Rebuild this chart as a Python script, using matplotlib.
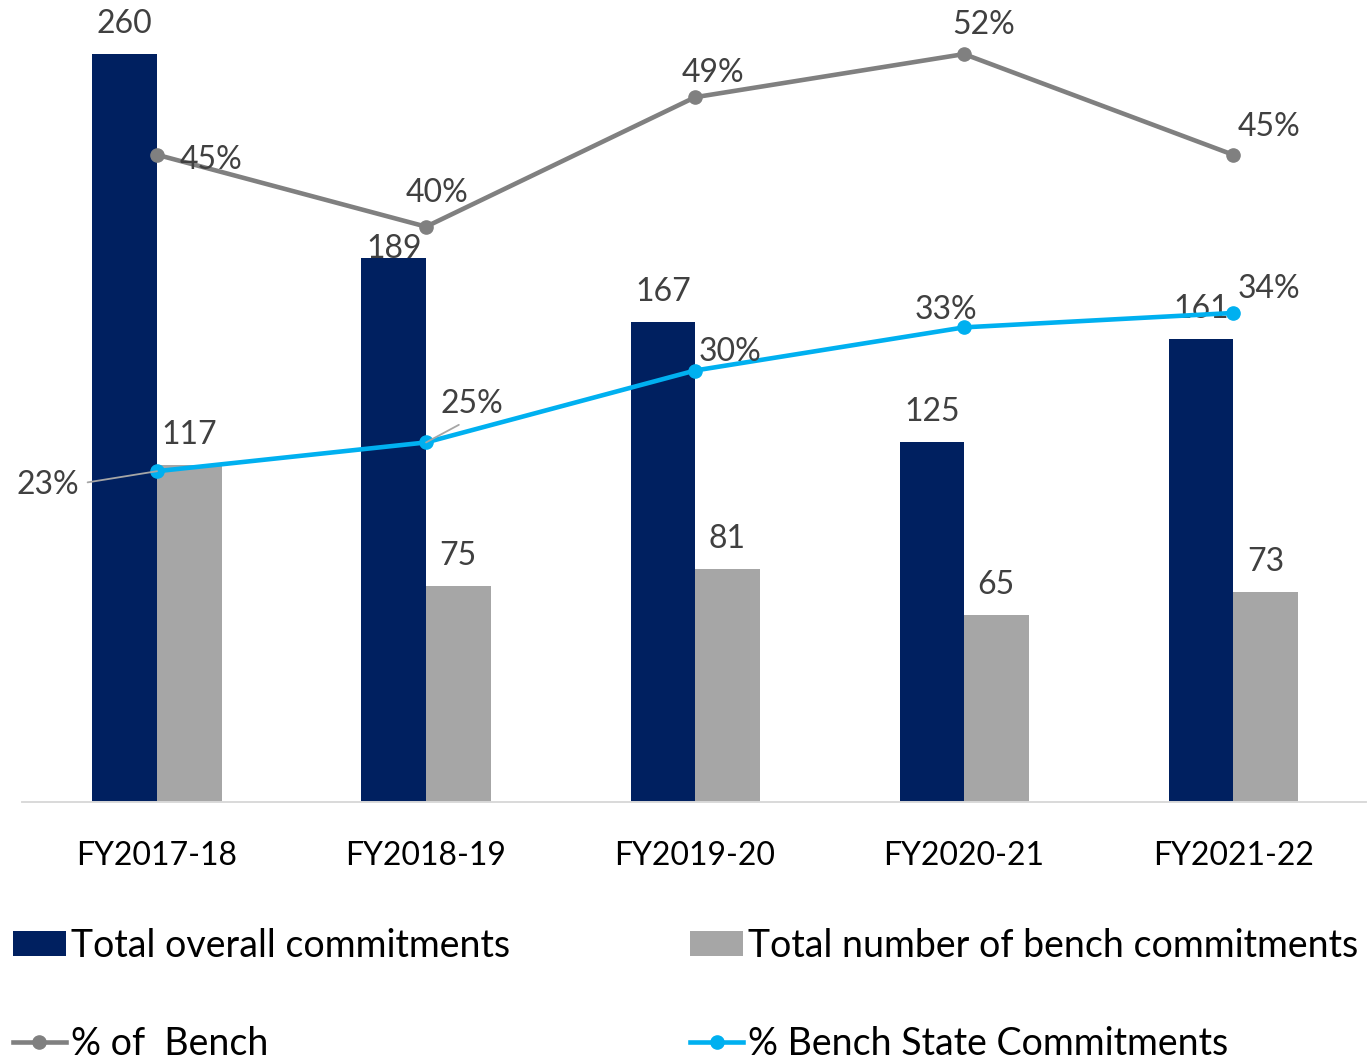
import numpy as np
import matplotlib
matplotlib.use("Agg")
import matplotlib.pyplot as plt

plt.rcParams["font.family"]=["Lato","DejaVu Sans"]

years=["FY2017-18","FY2018-19","FY2019-20","FY2020-21","FY2021-22"]
total_commitments=[260,189,167,125,161]
bench_commitments=[117,75,81,65,73]
pct_bench=[45,40,49,52,45]
pct_bench_state=[23,25,30,33,34]

NAVY="#002060"
GREY_BAR="#A6A6A6"
GREY_LINE="#808080"
BLUE="#00B0F0"
LABEL="#404040"

W,H=1371,1058
DPI=100
PX=72.0/DPI  # points per pixel

fig=plt.figure(figsize=(W/DPI,H/DPI),dpi=DPI)
ax=fig.add_axes([22/W,(H-802)/H,(1366-22)/W,802/H])
ax2=ax.twinx()

x=np.arange(len(years))
bw=0.24

ax.bar(x-bw/2,total_commitments,bw,color=NAVY,label="Total overall commitments",zorder=2)
ax.bar(x+bw/2,bench_commitments,bw,color=GREY_BAR,label="Total number of bench commitments",zorder=2)

ax.set_xlim(-0.502,4.494)
ax.set_ylim(0,278.8)
ax2.set_ylim(0,55.76)

l1,=ax2.plot(x,pct_bench,color=GREY_LINE,lw=3.3,marker="o",ms=9.5,
             label="% of  Bench",zorder=3)
l2,=ax2.plot(x,pct_bench_state,color=BLUE,lw=3.3,marker="o",ms=9.5,
             label="% Bench State Commitments",zorder=3)

fs=23

# bar value labels (pixel offsets above bar top)
bar_nudge=[30,9,30,30,30]
for i,v in enumerate(total_commitments):
    ax.annotate(str(v),(x[i]-bw/2,v),xytext=(0,bar_nudge[i]*PX),
                textcoords="offset points",ha="center",va="center",
                fontsize=fs,color=LABEL,zorder=5)
for i,v in enumerate(bench_commitments):
    ax.annotate(str(v),(x[i]+bw/2,v),xytext=(0,30*PX),
                textcoords="offset points",ha="center",va="center",
                fontsize=fs,color=LABEL,zorder=5)

# line labels, offsets in pixels (dx right, dy up)
bench_off=[(54,-5),(11,34),(18,24),(20,29),(36,28)]
for i,v in enumerate(pct_bench):
    dx,dy=bench_off[i]
    ax2.annotate(f"{v}%",(x[i],v),xytext=(dx*PX,dy*PX),
                 textcoords="offset points",ha="center",va="center",
                 fontsize=fs,color=LABEL,zorder=5)

state_off=[(-109,-14),(46,38),(35,19),(-18,17),(36,24)]
for i,v in enumerate(pct_bench_state):
    dx,dy=state_off[i]
    if i in (0,1):
        ax2.annotate(f"{v}%",(x[i],v),xytext=(dx*PX,dy*PX),
                     textcoords="offset points",ha="center",va="center",
                     fontsize=fs,color=LABEL,zorder=5,
                     arrowprops=dict(arrowstyle="-",color="#A6A6A6",lw=1.3,
                                     shrinkA=4,shrinkB=0,
                                     relpos=(1,0.55) if i==0 else (0.45,0)))
    else:
        ax2.annotate(f"{v}%",(x[i],v),xytext=(dx*PX,dy*PX),
                     textcoords="offset points",ha="center",va="center",
                     fontsize=fs,color=LABEL,zorder=5)

ax.set_xticks(x)
ax.set_xticklabels(years,fontsize=fs,color="#000000")
ax.tick_params(axis="x",length=0,pad=28)
ax.set_yticks([])
ax2.set_yticks([])
for a in (ax,ax2):
    for s in ("top","right","left"):
        a.spines[s].set_visible(False)
    a.spines["bottom"].set_color("#D9D9D9")
    a.spines["bottom"].set_linewidth(1.2)

handles=[ax.containers[0],l1,ax.containers[1],l2]
labels=["Total overall commitments","% of  Bench",
        "Total number of bench commitments","% Bench State Commitments"]
fig.legend(handles,labels,loc="upper left",bbox_to_anchor=(13/W,1-928/H),
           ncol=2,frameon=False,fontsize=27,handlelength=1.4,
           handleheight=0.65,handletextpad=0.15,columnspacing=4.8,
           labelspacing=1.65,borderpad=0,borderaxespad=0)

fig.savefig("out.png",dpi=DPI)
